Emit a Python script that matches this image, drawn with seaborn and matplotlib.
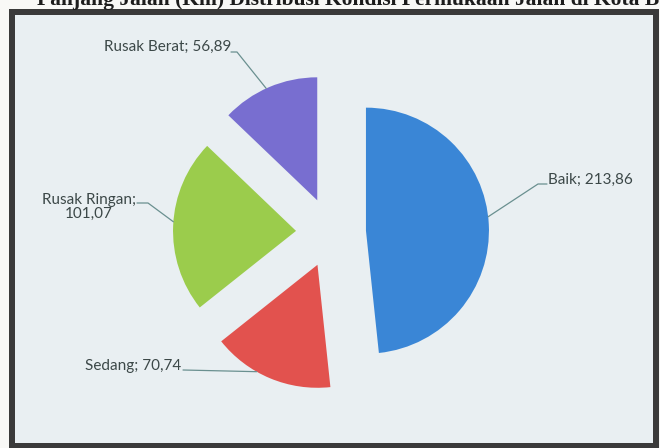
import matplotlib
matplotlib.use("Agg")
import numpy as np
import matplotlib.pyplot as plt
from matplotlib.patches import Rectangle
import seaborn as sns

# Road surface condition, length in km
categories = ["Baik", "Sedang", "Rusak Ringan", "Rusak Berat"]
panjang_km = [213.86, 70.74, 101.07, 56.89]
value_text = ["213,86", "70,74", "101,07", "56,89"]

caption = "Panjang Jalan (Km) Distribusi Kondisi Permukaan Jalan di Kota B"

sns.set_theme(style="white")
plt.rcParams["font.family"] = ["Lato", "DejaVu Sans"]

palette = sns.color_palette(["#3a86d6", "#e2524e", "#9bcc4c", "#786ed0"])

W, H = 660, 448
fig = plt.figure(figsize=(W / 100, H / 100), dpi=100)
fig.patch.set_facecolor("#f8f8f6")
ax = fig.add_axes([0, 0, 1, 1])


def py(y):
    """Convert a top-down pixel row into the axes' bottom-up units."""
    return H - y


# dark frame with the light chart area inside
ax.add_patch(Rectangle((9, py(448)), 650, 439, facecolor="#3a3a3a", edgecolor="none", zorder=0))
ax.add_patch(Rectangle((15, py(443)), 638, 428, facecolor="#e9eff2", edgecolor="none", zorder=0))

# caption line of the page, running under the top edge
ax.text(37, py(5), caption, family=["Liberation Serif"], fontsize=15.5,
        fontweight="bold", color="#1c1c1c", ha="left", va="baseline", zorder=1)

radius = 123
wedges, _ = ax.pie(panjang_km, colors=palette, startangle=90, counterclock=False,
                   explode=[35] * len(panjang_km), radius=radius, center=(331, py(232.5)),
                   wedgeprops=dict(linewidth=0), frame=True)
for w in wedges:
    w.set_zorder(2)

ax.set_xlim(0, W)
ax.set_ylim(0, H)
ax.set_aspect("auto")
ax.axis("off")

# label layout: text anchor, alignment, leader elbow points, where on the arc to attach
label_style = {
    "Baik":         dict(xy=(548, 180), ha="left",   elbow=[(538, 184), (547, 184)], frac=0.52),
    "Sedang":       dict(xy=(181, 366), ha="right",  elbow=[(183, 370)], frac=0.38),
    "Rusak Ringan": dict(xy=(89, 207),  ha="center", elbow=[(148, 203), (137, 203)], frac=0.48),
    "Rusak Berat":  dict(xy=(231, 47),  ha="right",  elbow=[(237, 52), (231, 52)], frac=0.53),
}

text_color = "#3c4848"
line_color = "#6a9090"

for w, cat, vt in zip(wedges, categories, value_text):
    st = label_style[cat]
    ang = np.deg2rad(w.theta1 + st["frac"] * (w.theta2 - w.theta1))
    cx, cy = w.center
    ax_pt = (cx + w.r * np.cos(ang), cy + w.r * np.sin(ang))
    pts = [ax_pt] + [(x, py(y)) for x, y in st["elbow"]]
    ax.plot([p[0] for p in pts], [p[1] for p in pts], color=line_color, lw=0.9, zorder=3)
    if cat == "Rusak Ringan":
        label = f"{cat};\n{vt}"
    else:
        label = f"{cat}; {vt}"
    ax.text(st["xy"][0], py(st["xy"][1]), label, ha=st["ha"], va="center",
            fontsize=11, color=text_color, linespacing=0.95, zorder=4)

fig.savefig("out.png", dpi=100, facecolor=fig.get_facecolor())
